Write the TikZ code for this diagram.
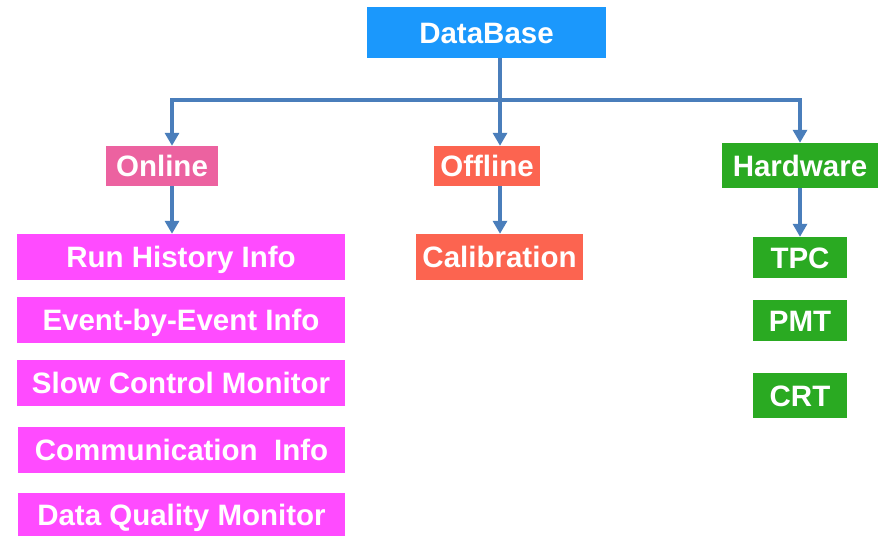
\documentclass[tikz,border=0pt]{standalone}
\usepackage{fontspec}
\setmainfont{Liberation Sans}
\usetikzlibrary{arrows.meta}
\definecolor{dbblue}{RGB}{27,152,252}
\definecolor{onpink}{RGB}{236,98,160}
\definecolor{offred}{RGB}{252,100,80}
\definecolor{hwgreen}{RGB}{42,170,34}
\definecolor{itemmag}{RGB}{255,75,255}
\definecolor{linkblue}{RGB}{74,126,187}
\begin{document}
\begin{tikzpicture}[x=1pt, y=1pt,
	box/.style={inner sep=0pt, text=white, font=\fontsize{29.5}{31}\selectfont\bfseries, text height=21pt, text depth=0pt},
	link/.style={draw=linkblue, line width=3.2pt},
	arr/.style={link, -{Triangle[width=14pt,length=13pt]}}]
	\useasboundingbox (0,0) rectangle (885,-536);
	\node [box, fill=dbblue, minimum width=239, minimum height=51] (db) at (486.5,-32.5) {DataBase};
	\node [box, fill=onpink, minimum width=112, minimum height=40] (online) at (162,-166) {Online};
	\node [box, fill=offred, minimum width=106, minimum height=40] (offline) at (487,-166) {Offline};
	\node [box, fill=hwgreen, minimum width=156, minimum height=45] (hardware) at (800,-165.5) {Hardware};
	\node [box, fill=itemmag, minimum width=328, minimum height=46] (run) at (181,-257) {Run History Info};
	\node [box, fill=itemmag, minimum width=328, minimum height=46] (event) at (181,-320) {Event-by-Event Info};
	\node [box, fill=itemmag, minimum width=328, minimum height=46] (slow) at (181,-383) {Slow Control Monitor};
	\node [box, fill=itemmag, minimum width=327, minimum height=46] (comm) at (181.5,-450) {Communication\ \ Info};
	\node [box, fill=itemmag, minimum width=327, minimum height=43] (dq) at (181.5,-514.5) {Data Quality Monitor};
	\node [box, fill=offred, minimum width=167, minimum height=46] (calib) at (499.5,-257) {Calibration};
	\node [box, fill=hwgreen, minimum width=94, minimum height=41] (tpc) at (800,-257.5) {TPC};
	\node [box, fill=hwgreen, minimum width=94, minimum height=41] (pmt) at (800,-320.5) {PMT};
	\node [box, fill=hwgreen, minimum width=94, minimum height=45] (crt) at (800,-395.5) {CRT};
	\coordinate (busL) at (172,-100);
	\coordinate (busM) at (500,-100);
	\coordinate (busR) at (800,-100);
	\draw [link] (db.south -| busM) -- (busM);
	\draw [link] ([xshift=-1.6pt]busL) -- ([xshift=1.6pt]busR);
	\draw [arr] (busL) -- (online.north -| busL);
	\draw [arr] (busM) -- (offline.north -| busM);
	\draw [arr] (busR) -- (hardware.north -| busR);
	\draw [arr] (online.south -| busL) -- (run.north -| busL);
	\draw [arr] (offline.south -| busM) -- (calib.north -| busM);
	\draw [arr] (hardware.south -| busR) -- (tpc.north -| busR);

\end{tikzpicture}
\end{document}
